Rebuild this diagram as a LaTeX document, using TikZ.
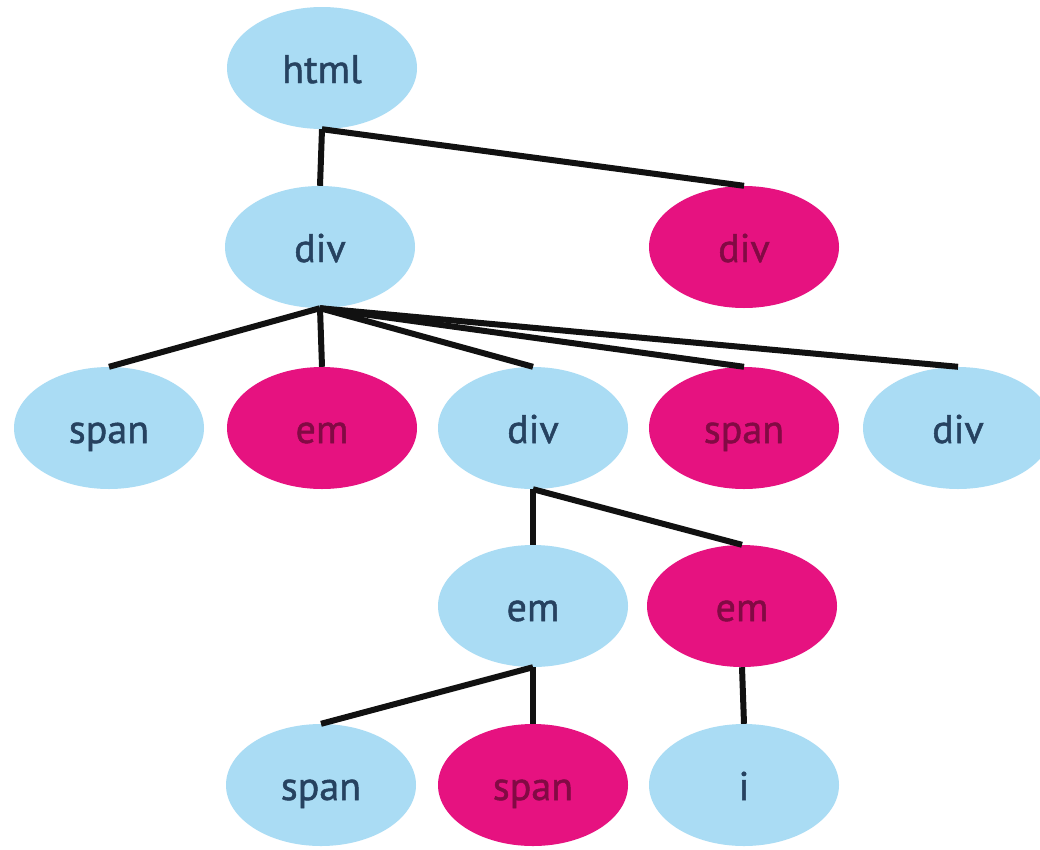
\documentclass[tikz,border=0pt]{standalone}
\usepackage{fontspec}
\setmainfont{PT Sans}
\newfontfamily\tagfont{PT Sans}[FakeBold=1.2]
\usetikzlibrary{shapes.geometric}
\definecolor{nodeblue}{RGB}{170,220,244}
\definecolor{nodepink}{RGB}{230,18,128}
\definecolor{textblue}{RGB}{38,66,96}
\definecolor{textpink}{RGB}{130,10,68}
\definecolor{edgecol}{RGB}{17,17,17}
\begin{document}
\begin{tikzpicture}[x=1pt,y=-1pt,
  tag/.style={ellipse, minimum width=190pt, minimum height=122pt, inner sep=0pt,
    font=\tagfont\fontsize{40}{48}\selectfont, text height=32pt, text depth=2pt},
  plain/.style={tag, fill=nodeblue, text=textblue},
  hit/.style={tag, fill=nodepink, text=textpink},
  link/.style={draw=edgecol, line width=6pt}]
\useasboundingbox (0,0) rectangle (1040,849);
\fill[white] (0,0) rectangle (1040,849);
\clip (0,0) rectangle (1040,849);

% tree nodes, level by level
\node[plain] (html)   at (322,68)  {html};
\node[plain] (div1)   at (320,247) {div};
\node[hit]   (divP)   at (744,247) {div};

\node[plain] (span2)  at (109,428) {span};
\node[hit]   (emP2)   at (322,428) {em};
\node[plain] (div2)   at (533,428) {div};
\node[hit]   (spanP2) at (744,428) {span};
\node[plain] (div2r)  at (958,428) {div};

\node[plain] (em3)    at (533,606) {em};
\node[hit]   (emP3)   at (742,606) {em};

\node[plain] (span4)  at (321,785) {span};
\node[hit]   (spanP4) at (533,785) {span};
\node[plain] (i4)     at (744,785) {i};

% parent-child links
\draw[link] (html.south) -- (div1.north);
\draw[link] (html.south) -- (divP.north);

\draw[link] (div1.south) -- (span2.north);
\draw[link] (div1.south) -- (emP2.north);
\draw[link] (div1.south) -- (div2.north);
\draw[link] (div1.south) -- (spanP2.north);
\draw[link] (div1.south) -- (div2r.north);

\draw[link] (div2.south) -- (em3.north);
\draw[link] (div2.south) -- (emP3.north);

\draw[link] (em3.south) -- (span4.north);
\draw[link] (em3.south) -- (spanP4.north);
\draw[link] (emP3.south) -- (i4.north);
\end{tikzpicture}
\end{document}
